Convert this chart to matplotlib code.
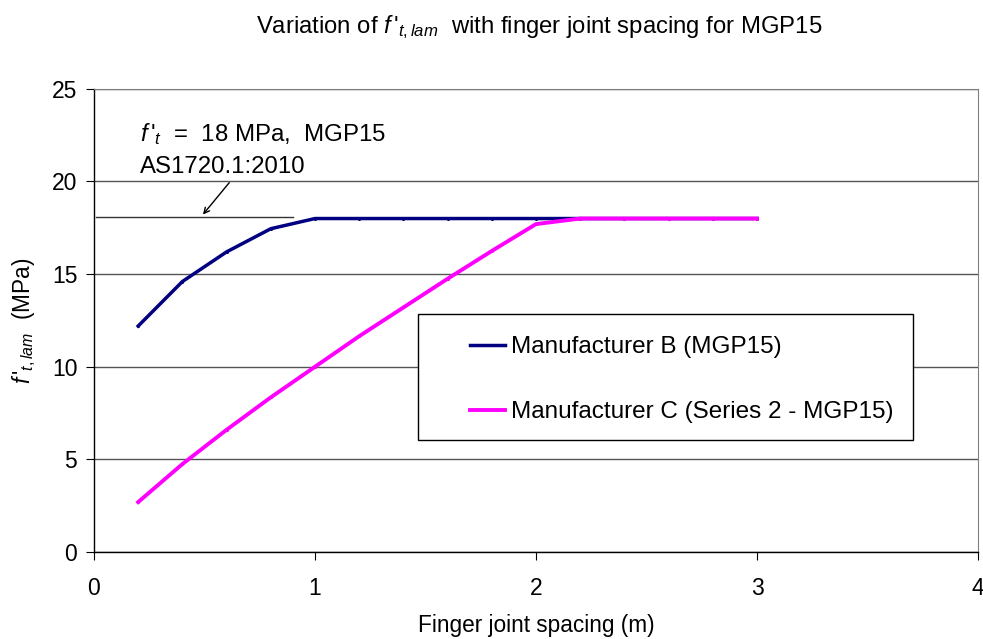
import matplotlib
matplotlib.use("Agg")
import matplotlib.pyplot as plt
from matplotlib.patches import Rectangle

plt.rcParams["font.family"] = ["Liberation Sans", "DejaVu Sans"]
plt.rcParams["mathtext.fontset"] = "custom"
plt.rcParams["mathtext.rm"] = "Liberation Sans"
plt.rcParams["mathtext.it"] = "Liberation Sans:italic"

# finger joint spacing (m) vs laminate tensile strength (MPa)
spacing_b = [0.2, 0.4, 0.6, 0.8, 1.0, 1.2, 1.4, 1.6, 1.8, 2.0, 2.2, 2.4, 2.6, 2.8, 3.0]
strength_b = [12.2, 14.6, 16.2, 17.45, 18.0, 18.0, 18.0, 18.0, 18.0, 18.0, 18.0, 18.0, 18.0, 18.0, 18.0]
spacing_c = [0.2, 0.4, 0.6, 0.8, 1.0, 1.2, 1.4, 1.6, 1.8, 2.0, 2.2, 2.4, 2.6, 2.8, 3.0]
strength_c = [2.7, 4.75, 6.6, 8.35, 10.0, 11.65, 13.2, 14.75, 16.25, 17.7, 18.0, 18.0, 18.0, 18.0, 18.0]
code_value = 18.1
code_span = [0.01, 0.9]

FS = 16.5
FPRIME = r"$f\,$'"  # italic f followed by an upright apostrophe

fig = plt.figure(figsize=(9.83, 6.39), dpi=100)
ax = fig.add_axes([0.0956, 0.136, 0.8993, 0.725])

ax.plot(spacing_b, strength_b, color="#000080", lw=2.5, marker="o", ms=1.2,
        label="Manufacturer B (MGP15)", zorder=3)
ax.plot(spacing_c, strength_c, color="#FF00FF", lw=2.8, marker="o", ms=1.2,
        label="Manufacturer C (Series 2 - MGP15)", zorder=4)

# code value reference line + annotation
ax.plot(code_span, [code_value, code_value], color="#333333", lw=1.0, zorder=2)
ax.annotate("", xy=(0.485, code_value), xytext=(0.62, 20.05),
            arrowprops=dict(arrowstyle="->", color="black", lw=1.0))
ax.text(0.21, 22.2, FPRIME + r"$_{t}$  =  18 MPa,  MGP15", fontsize=17.3, va="baseline")
ax.text(0.21, 20.45, "AS1720.1:2010", fontsize=17.3, va="baseline")

ax.set_xlim(0, 4)
ax.set_ylim(0, 25)
ax.set_xticks([0, 1, 2, 3, 4])
ax.set_yticks([0, 5, 10, 15, 20, 25])
ax.tick_params(axis="both", labelsize=FS, direction="out", length=6, color="black")
ax.tick_params(axis="x", pad=12)
ax.tick_params(axis="y", pad=6)
ax.grid(axis="y", color="#555555", lw=1.0, zorder=1)

for side in ["top", "right"]:
    ax.spines[side].set_color("#808080")
for side in ["left", "bottom"]:
    ax.spines[side].set_color("black")
    ax.spines[side].set_linewidth(1.0)

ax.set_xlabel("Finger joint spacing (m)", fontsize=16.3, labelpad=10)
ax.set_ylabel(FPRIME + r"$_{t,lam}$  (MPa)", fontsize=16.3, labelpad=10)
fig.text(0.549, 0.958,
         "Variation of " + FPRIME + r"$_{t,lam}$  with finger joint spacing for MGP15",
         fontsize=17.2, ha="center", va="center")

# legend box drawn separately so the inner padding matches
ax.add_patch(Rectangle((0.3665, 0.2419), 0.56, 0.272, transform=ax.transAxes,
                       facecolor="white", edgecolor="black", lw=1.0, zorder=5))
leg = ax.legend(loc="center left", bbox_to_anchor=(0.425, 0.372),
                fontsize=17.5, frameon=False, handlelength=1.45,
                handletextpad=0.25, labelspacing=1.75, borderpad=0,
                borderaxespad=0)
leg.set_zorder(6)
for h in leg.get_lines():
    h.set_marker("")

fig.savefig("out.png", dpi=100)
